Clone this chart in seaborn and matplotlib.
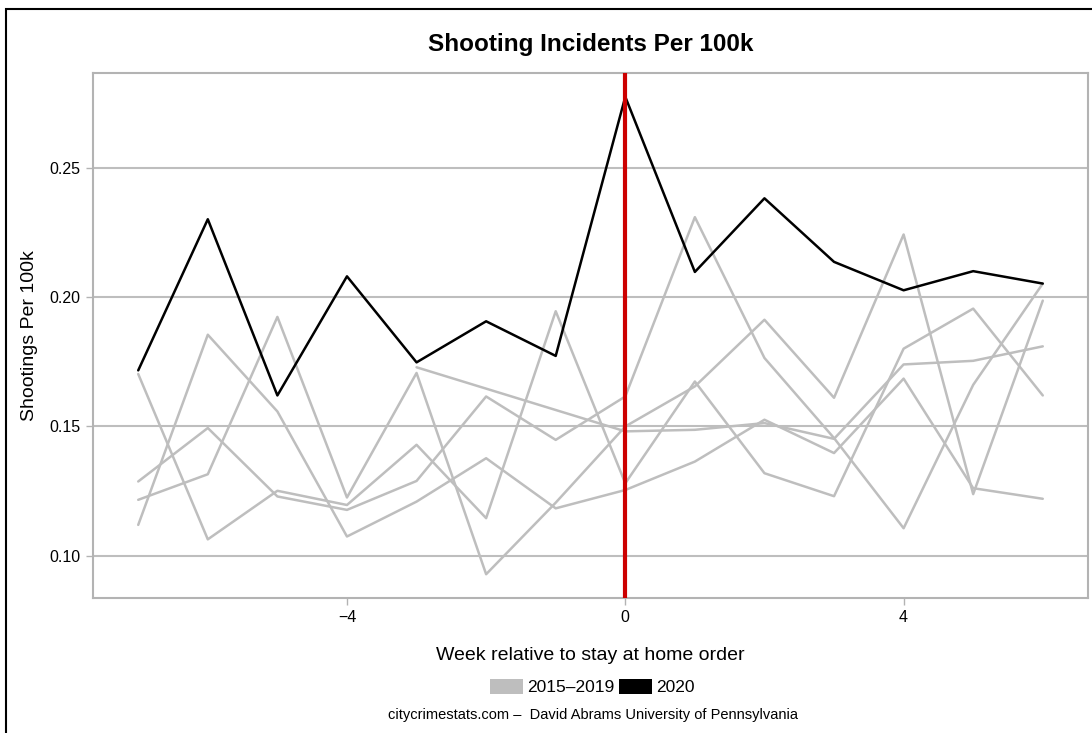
import pandas as pd
import seaborn as sns
import matplotlib.pyplot as plt
from matplotlib.patches import Patch, Rectangle

WEEKS = list(range(-7, 7))
PAST_YEARS = ["2015", "2016", "2017", "2018", "2019"]

# values (None = no point that week)
Y2015 = [0.1703, 0.1063, 0.1251, 0.1196, 0.1429, 0.1145, 0.1946, 0.1280, 0.1674, 0.1319, 0.1230, 0.1801, 0.1956, 0.1620]
Y2016 = [0.1287, 0.1494, 0.1229, 0.1177, 0.1289, 0.1616, 0.1448, 0.1616, 0.2310, 0.1765, 0.1455, 0.1106, 0.1661, 0.2053]
Y2017 = [0.1216, 0.1315, 0.1924, 0.1225, 0.1707, 0.0928, 0.1205, 0.1500, 0.1655, 0.1913, 0.1611, 0.2243, 0.1238, 0.1987]
Y2018 = [0.1119, 0.1855, 0.1558, 0.1074, 0.1209, 0.1377, 0.1183, 0.1254, 0.1364, 0.1526, 0.1397, 0.1685, 0.1261, 0.1220]
Y2019 = [None, None, None, None, 0.1729, None, None, 0.1481, 0.1487, 0.1513, 0.1452, 0.1740, 0.1754, 0.1810]
Y2020 = [0.1717, 0.2302, 0.1620, 0.2081, 0.1748, 0.1907, 0.1773, 0.2776, 0.2098, 0.2383, 0.2137, 0.2027, 0.2101, 0.2053]

X_TICKS = [-4, 0, 4]
Y_TICKS = [0.10, 0.15, 0.20, 0.25]

GRAY = "#bebebe"
RED = "#cc0000"

if __name__ == "__main__":
    # Data Processing
    rows = []
    for yr, vals in zip(PAST_YEARS, [Y2015, Y2016, Y2017, Y2018, Y2019]):
        for wk, v in zip(WEEKS, vals):
            rows.append({"week": wk, "year": yr, "rate": v})
    pastDF = pd.DataFrame(rows).dropna()
    curDF = pd.DataFrame({"week": WEEKS, "rate": Y2020})

    # Plot Creation
    sns.set_style("white")
    plt.rcParams["font.family"] = ["Liberation Sans", "DejaVu Sans"]
    plt.rcParams["text.color"] = "black"

    W, H = 1092, 733
    fig = plt.figure(figsize=(W / 100, H / 100), dpi=100)
    left, right, top, bottom = 93, 1088, 73, 598
    ax = fig.add_axes([left / W, 1 - bottom / H, (right - left) / W, (bottom - top) / H])

    sns.lineplot(data=pastDF, x="week", y="rate", units="year", estimator=None,
                 color=GRAY, linewidth=1.8, legend=False, ax=ax)
    sns.lineplot(data=curDF, x="week", y="rate", color="black", linewidth=1.8,
                 legend=False, ax=ax)
    ax.axvline(0, color=RED, linewidth=3, zorder=5)

    ax.set_xlim(-7.65, 6.65)
    ax.set_ylim(0.0836, 0.2868)
    ax.set_xticks(X_TICKS)
    ax.set_xticklabels([f"{t}".replace("-", "\u2212") for t in X_TICKS])
    ax.set_yticks(Y_TICKS)
    ax.set_yticklabels([f"{t:.2f}" for t in Y_TICKS])
    ax.set_xlabel("")
    ax.set_ylabel("")
    ax.yaxis.grid(True, color=GRAY, linewidth=1.5)
    ax.xaxis.grid(False)
    ax.set_axisbelow(True)
    ax.tick_params(axis="both", length=5, width=1, color="#b3b3b3",
                   labelsize=11.5, labelcolor="black", pad=4, direction="out")
    ax.tick_params(axis="x", bottom=True)
    ax.tick_params(axis="y", left=True)
    for sp in ax.spines.values():
        sp.set_color("#b3b3b3")
        sp.set_linewidth(1.5)

    cx = (left + right) / 2 / W
    fig.text(cx, 1 - 44 / H, "Shooting Incidents Per 100k", ha="center", va="center",
             fontsize=17.5, fontweight="bold", color="black")
    fig.text(cx, 1 - 656 / H, "Week relative to stay at home order", ha="center",
             va="center", fontsize=14, color="black")
    fig.text(30 / W, 1 - 336 / H, "Shootings Per 100k", ha="center", va="center",
             rotation=90, fontsize=14, color="black")
    fig.text(593 / W, 1 - 715 / H,
             "citycrimestats.com \u2013  David Abrams University of Pennsylvania",
             ha="center", va="center", fontsize=10.5, color="black")

    handles = [Patch(facecolor=GRAY, edgecolor="none", label="2015\u20132019"),
               Patch(facecolor="black", edgecolor="none", label="2020")]
    leg = fig.legend(handles=handles, loc="center", bbox_to_anchor=(592 / W, 1 - 687 / H),
                     ncol=2, frameon=False, fontsize=12.5, handlelength=1.95,
                     handleheight=0.95, handletextpad=0.2, columnspacing=0.25,
                     borderpad=0, borderaxespad=0)
    for t in leg.get_texts():
        t.set_color("black")

    # outer frame (cropped on the right and bottom in the reference)
    fig.patches.append(Rectangle((6 / W, -0.1), 2, 1.1 - 9 / H, transform=fig.transFigure,
                                 fill=False, edgecolor="black", linewidth=1.5))

    plt.savefig("out.png", dpi=100)
